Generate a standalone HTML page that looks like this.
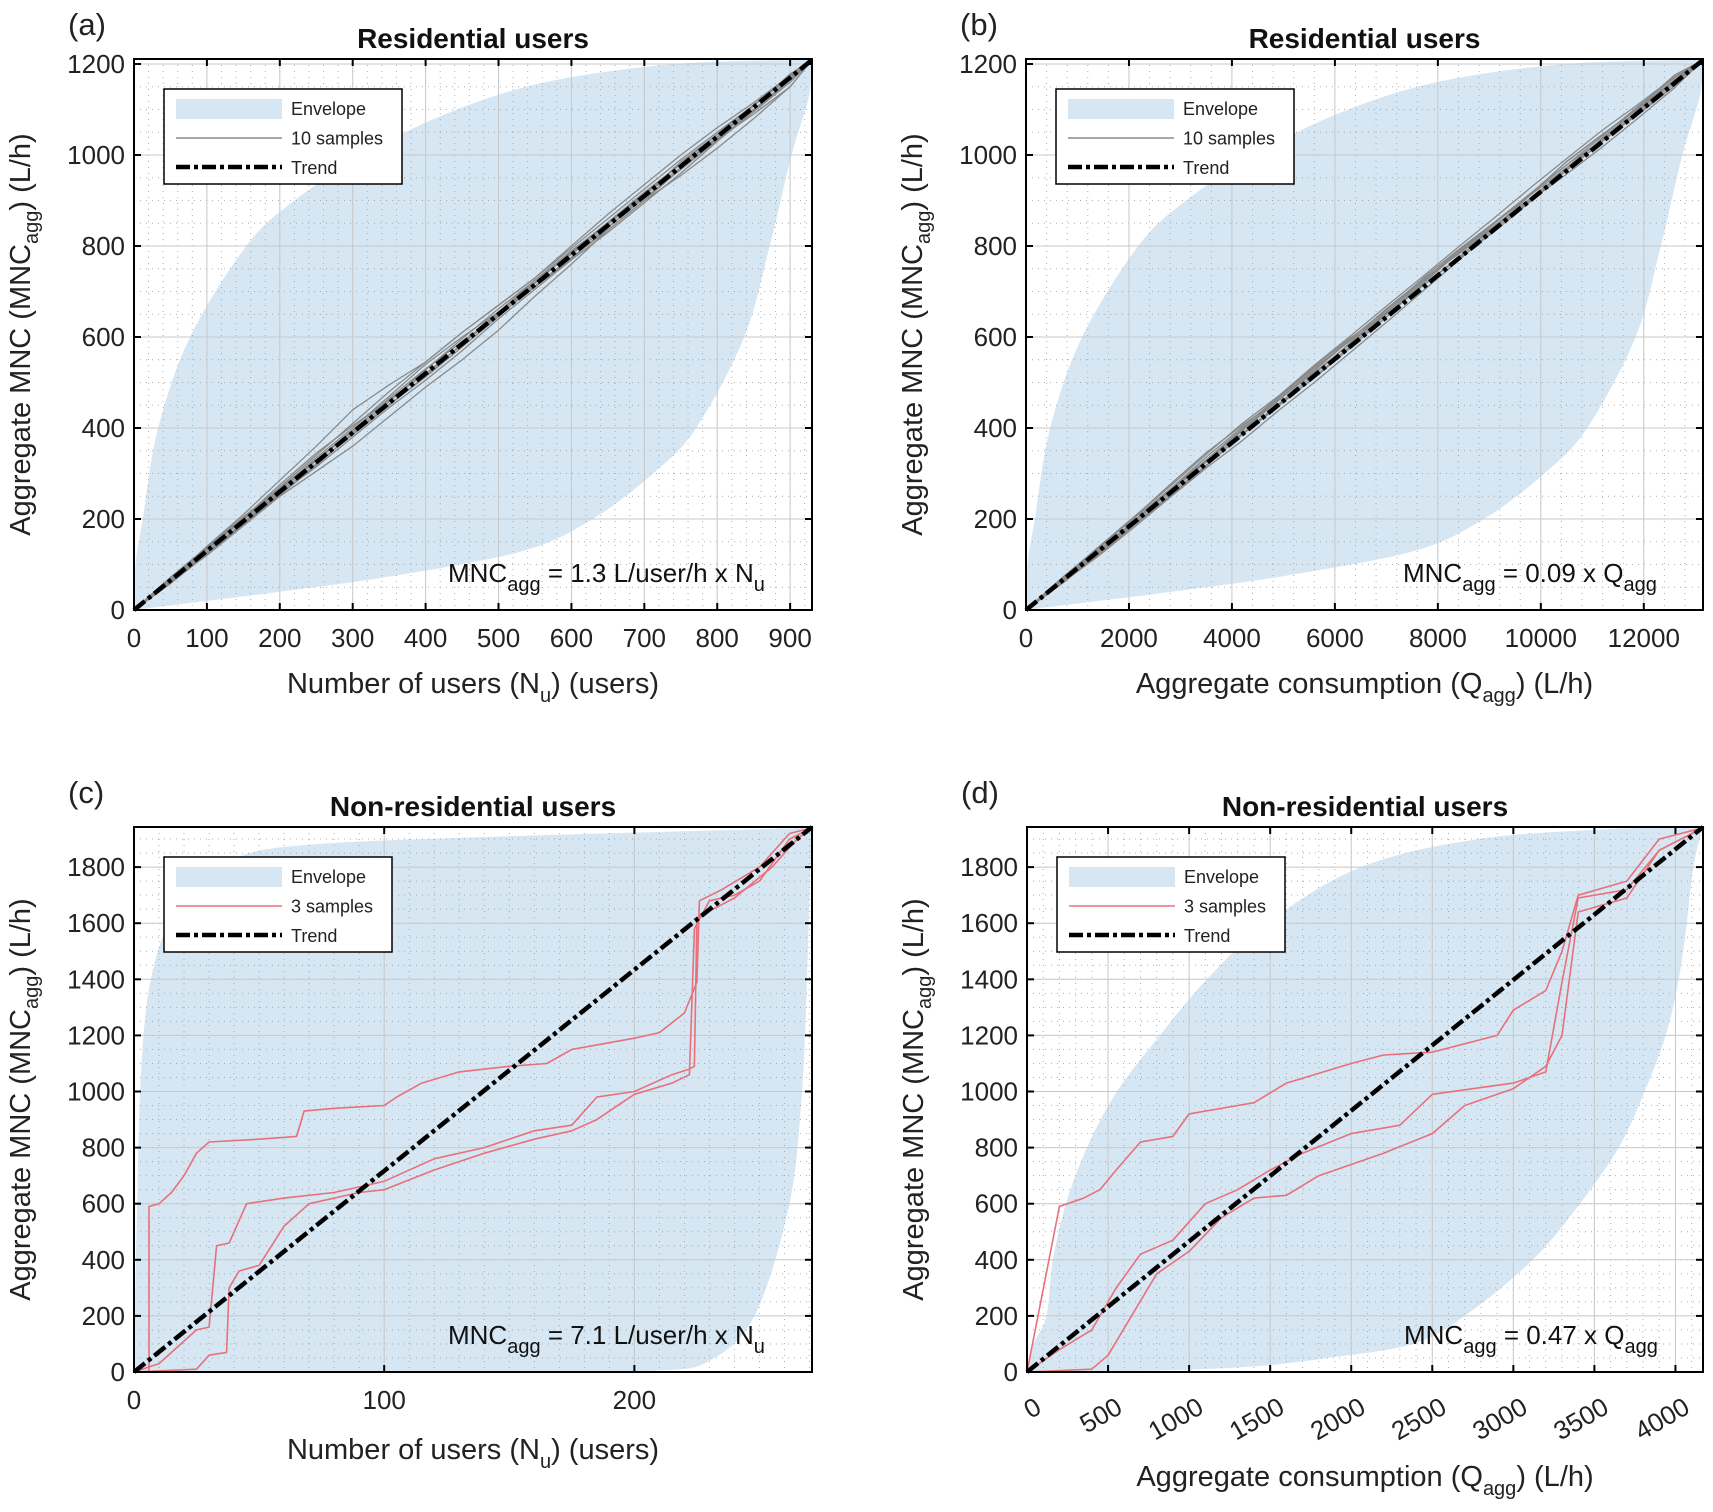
<!DOCTYPE html>
<html><head><meta charset="utf-8">
<style>
body{margin:0;background:#fff}
svg{display:block;font-family:"Liberation Sans",Arial,sans-serif}
</style></head>
<body>
<svg id="fig" width="1713" height="1512" viewBox="0 0 1713 1512" xmlns="http://www.w3.org/2000/svg">
<rect width="1713" height="1512" fill="#fff"/>
</svg>
<script>
// ---------- data ----------
// Panel (a)
const aEnvUpX = [0,2,12,33,77,154,220,315,427,564,742,930];
const aEnvUpY = [0,100,200,400,600,800,900,1000,1090,1160,1200,1209];
const aEnvLoX = [0,100,200,356,534,629,712,771,837,872,902,926,930];
const aEnvLoY = [0,20,40,75,130,200,300,400,600,800,1000,1130,1209];
const aSampX = [0,50,100,150,200,250,300,350,400,450,500,550,600,650,700,750,800,850,900,930];
const aS1 = [0,70,135,200,270,340,410,480,545,610,670,730,795,860,925,990,1050,1110,1170,1209];
const aS2 = [0,60,125,190,255,315,380,445,505,570,640,705,770,830,895,960,1030,1095,1160,1209];
const aS3 = [0,68,140,210,285,360,440,495,545,610,670,730,800,870,935,1000,1060,1115,1175,1209];
const aS4 = [0,62,120,185,250,305,360,425,490,550,615,690,760,835,900,955,1015,1080,1150,1209];
const aS5 = [0,66,132,198,265,335,400,470,540,600,655,712,775,835,900,970,1040,1100,1165,1209];
const aS6 = [0,63,128,192,258,322,385,450,515,585,655,725,790,850,915,980,1045,1110,1172,1209];
const aS7 = [0,72,138,205,268,330,395,465,530,590,648,710,772,840,910,985,1045,1100,1160,1209];
const aS8 = [0,58,122,188,252,318,388,452,512,578,645,718,788,852,918,980,1035,1090,1150,1209];
const aS9 = [0,67,134,202,275,345,405,462,520,583,652,720,785,848,912,972,1038,1108,1178,1209];
const aS10 = [0,61,126,193,262,328,392,458,528,596,662,725,782,842,905,968,1032,1098,1168,1209];
const aTrendX = [0,930];
const aTrendY = [0,1209];
// Panel (b)
const bEnvUpX = [0,28,170,470,1090,2180,3110,4450,6040,7970,10490,13150];
const bEnvUpY = [0,100,200,400,600,800,900,1000,1090,1160,1200,1209];
const bEnvLoX = [0,1410,2830,5030,7550,8890,10070,10900,11840,12330,12750,13090,13150];
const bEnvLoY = [0,20,40,75,130,200,300,400,600,800,1000,1130,1209];
const bSampX = [0,700,1400,2100,2800,3500,4200,4900,5600,6300,7000,7700,8400,9100,9800,10500,11200,11900,12600,13150];
const bS1 = [0,68,128,195,262,330,398,462,528,596,660,722,790,852,915,985,1045,1105,1165,1209];
const bS2 = [0,62,122,188,255,318,385,448,512,580,650,718,785,845,905,968,1030,1092,1158,1209];
const bS3 = [0,70,138,205,272,342,410,470,538,602,668,732,798,862,928,992,1055,1112,1172,1209];
const bS4 = [0,60,118,182,248,312,372,438,500,566,632,700,768,838,900,958,1018,1082,1148,1209];
const bS5 = [0,66,130,196,266,336,402,468,535,598,652,712,772,832,898,968,1038,1098,1162,1209];
const bS6 = [0,64,128,194,260,325,388,452,518,588,658,728,792,852,915,978,1042,1108,1170,1209];
const bS7 = [0,71,136,202,266,330,396,466,532,592,650,712,775,842,912,986,1046,1102,1162,1209];
const bS8 = [0,58,120,186,250,316,386,450,510,576,644,716,786,850,916,978,1034,1090,1152,1209];
const bS9 = [0,66,134,204,276,346,406,462,522,585,654,722,786,850,912,972,1036,1106,1176,1209];
const bS10 = [0,62,126,192,262,328,394,460,526,594,662,726,782,842,904,966,1030,1096,1166,1209];
const bTrendX = [0,13150];
const bTrendY = [0,1209];
// Panel (c)
const cEnvUpX = [0,1,3,8,20,40,70,150,271];
const cEnvUpY = [0,500,1100,1450,1700,1830,1880,1910,1940];
const cEnvLoX = [0,150,209,230,248,262,267,269,270,271];
const cEnvLoY = [0,0,5,40,200,600,1000,1400,1700,1940];
const cS1X = [0,6,6,10,15,20,25,30,50,65,68,80,100,105,115,130,150,165,175,200,210,220,225,226,235,250,262,271];
const cS1Y = [0,0,590,600,640,700,780,820,830,840,930,940,950,980,1030,1070,1090,1100,1150,1190,1210,1280,1390,1680,1720,1800,1920,1940];
const cS2X = [0,10,25,30,33,38,40,45,60,80,100,120,140,160,175,185,200,215,222,224,225,240,255,265,271];
const cS2Y = [0,30,150,160,450,460,500,600,620,640,680,760,800,860,880,980,1000,1060,1080,1090,1620,1690,1800,1900,1940];
const cS3X = [0,25,30,37,38,42,50,60,70,90,100,120,140,160,175,185,200,215,222,224,230,240,250,262,271];
const cS3Y = [0,10,60,70,300,360,380,520,600,640,650,720,780,830,860,900,990,1030,1060,1580,1680,1700,1750,1900,1940];
const cTrendX = [0,271];
const cTrendY = [0,1943];
// Panel (d)
const dEnvUpX = [0,40,120,160,240,370,555,820,1110,1480,2060,2780,3570,4170];
const dEnvUpY = [0,100,200,400,600,800,1000,1200,1400,1600,1800,1900,1935,1943];
const dEnvLoX = [0,800,1400,1850,2380,2700,3120,3410,3650,3810,3940,4020,4070,4110,4170];
const dEnvLoY = [0,5,20,50,100,200,400,600,800,1000,1200,1400,1600,1800,1943];
const dS1X = [0,200,350,450,550,700,900,1000,1300,1400,1600,2000,2200,2500,2900,3000,3200,3300,3400,3700,3900,4170];
const dS1Y = [0,590,620,650,720,820,840,920,950,960,1030,1100,1130,1140,1200,1290,1360,1500,1700,1750,1900,1940];
const dS2X = [0,200,400,550,700,900,1100,1300,1500,1700,2000,2300,2500,3000,3200,3300,3400,3700,3900,4170];
const dS2Y = [0,80,150,300,420,470,600,650,720,780,850,880,990,1030,1070,1390,1690,1720,1860,1940];
const dS3X = [0,400,500,800,1000,1200,1400,1600,1800,2200,2500,2700,3000,3200,3300,3400,3700,3900,4170];
const dS3Y = [0,10,60,350,430,550,620,630,700,780,850,950,1010,1090,1200,1640,1690,1860,1940];
const dTrendX = [0,4170];
const dTrendY = [0,1943];
// tick labels
const aXTicks = [0,100,200,300,400,500,600,700,800,900];
const bXTicks = [0,2000,4000,6000,8000,10000,12000];
const abYTicks = [0,200,400,600,800,1000,1200];
const cXTicks = [0,100,200];
const dXTicks = [0,500,1000,1500,2000,2500,3000,3500,4000];
const cdYTicks = [0,200,400,600,800,1000,1200,1400,1600,1800];

// ---------- drawing ----------
const NS = "http://www.w3.org/2000/svg";
const svg = document.getElementById('fig');
function mk(tag, attrs, parent){
  const e = document.createElementNS(NS, tag);
  for (const k in attrs) e.setAttribute(k, attrs[k]);
  (parent||svg).appendChild(e);
  return e;
}
function smooth(pts, start){
  let d = (start ? 'M' : 'L') + pts[0][0].toFixed(1) + ',' + pts[0][1].toFixed(1);
  for (let i = 0; i < pts.length-1; i++){
    const p0 = pts[Math.max(0,i-1)], p1 = pts[i], p2 = pts[i+1], p3 = pts[Math.min(pts.length-1,i+2)];
    const c1 = [p1[0] + (p2[0]-p0[0])/6, p1[1] + (p2[1]-p0[1])/6];
    const c2 = [p2[0] - (p3[0]-p1[0])/6, p2[1] - (p3[1]-p1[1])/6];
    d += 'C' + c1[0].toFixed(1) + ',' + c1[1].toFixed(1) + ' ' + c2[0].toFixed(1) + ',' + c2[1].toFixed(1) + ' ' + p2[0].toFixed(1) + ',' + p2[1].toFixed(1);
  }
  return d;
}
function panel(P){
  const g = mk('g', {});
  
  
  const sx = v => P.L + v / P.xmax * (P.R - P.L);
  const sy = v => P.B - v / P.ymax * (P.B - P.T);
  const clamp = (v, a, b) => Math.max(a, Math.min(b, v));
  const bg = mk('rect', {x:P.L, y:P.T, width:P.R-P.L, height:P.B-P.T, fill:'#fff'}, g);
  
  
  const up = P.envUpX.map((x,i)=>[sx(x), sy(P.envUpY[i])]);
  const lo = P.envLoX.map((x,i)=>[sx(x), sy(P.envLoY[i])]).reverse();
  const cp = mk('clipPath', {id:'clip-'+P.id}, g);
  mk('rect', {x:P.L, y:P.T, width:P.R-P.L, height:P.B-P.T}, cp);
  const env = mk('path', {d:smooth(up,true) + smooth(lo,false) + 'Z', fill:'#d6e7f3', stroke:'none', 'clip-path':'url(#clip-'+P.id+')'}, g);
  
  
  const grid = mk('g', {stroke:'#9a9a9a', 'stroke-width':1, 'stroke-dasharray':'1,5', opacity:0.8}, g);
  
  
  for (let v = P.xminor; v < P.xmax; v += P.xminor) mk('line', {x1:sx(v), x2:sx(v), y1:P.T, y2:P.B}, grid);
  for (let v = P.yminor; v < P.ymax; v += P.yminor) mk('line', {x1:P.L, x2:P.R, y1:sy(v), y2:sy(v)}, grid);
  const mg = mk('g', {stroke:'#c8c8c8', 'stroke-width':1}, g);
  
  
  P.xt.forEach(v=>{ if (v>0) mk('line', {x1:sx(v), x2:sx(v), y1:P.T, y2:P.B}, mg); });
  P.yt.forEach(v=>{ if (v>0) mk('line', {x1:P.L, x2:P.R, y1:sy(v), y2:sy(v)}, mg); });
  P.samples.forEach((s, k)=>{
    const pts = s.x.map((x,i)=> sx(x).toFixed(1) + ',' + clamp(sy(s.y[i]),P.T,P.B).toFixed(1)).join(' ');
    const pl = mk('polyline', {points:pts, fill:'none', stroke:P.sampColor, 'stroke-width':P.sampW, 'stroke-linejoin':'round'}, g);
    
    
  });
  const tr = mk('line', {x1:sx(P.trendX[0]), y1:sy(P.trendY[0]), x2:sx(P.trendX[1]), y2:clamp(sy(P.trendY[1]),P.T,P.B), stroke:'#000', 'stroke-width':4.5, 'stroke-dasharray':'14,4,4,4'}, g);
  
  
  const box = mk('rect', {x:P.L, y:P.T, width:P.R-P.L, height:P.B-P.T, fill:'none', stroke:'#000', 'stroke-width':2}, g);
  
  
  P.xt.forEach(v=>{
    mk('line', {x1:sx(v), x2:sx(v), y1:P.B, y2:P.B-7, stroke:'#000', 'stroke-width':2}, g);
    mk('line', {x1:sx(v), x2:sx(v), y1:P.T, y2:P.T+7, stroke:'#000', 'stroke-width':2}, g);
    let t;
    if (P.rot) {
      const x = sx(v), y = P.B + 40;
      t = mk('text', {x:x+16, y:y, 'font-size':26, 'text-anchor':'end', fill:'#222', transform:'rotate(-30 '+(x+16)+' '+y+')'}, g);
    } else {
      t = mk('text', {x:sx(v), y:P.B+37, 'font-size':26, 'text-anchor':'middle', fill:'#222'}, g);
    }
    t.textContent = v;
    
    
  });
  P.yt.forEach(v=>{
    mk('line', {x1:P.L, x2:P.L+7, y1:sy(v), y2:sy(v), stroke:'#000', 'stroke-width':2}, g);
    mk('line', {x1:P.R, x2:P.R-7, y1:sy(v), y2:sy(v), stroke:'#000', 'stroke-width':2}, g);
    const t = mk('text', {x:P.L-9, y:sy(v)+9, 'font-size':26, 'text-anchor':'end', fill:'#222'}, g);
    t.textContent = v;
    
    
  });
  const ti = mk('text', {x:(P.L+P.R)/2, y:P.T-11, 'font-size':28, 'font-weight':'bold', 'text-anchor':'middle', fill:'#111'}, g);
  ti.textContent = P.title;
  
  
  const pl = mk('text', {x:P.L-66, y:P.T-24, 'font-size':31, fill:'#222'}, g);
  pl.textContent = '(' + P.id + ')';
  
  
  const xl = mk('text', {x:(P.L+P.R)/2, y:P.xlabY, 'font-size':29, 'text-anchor':'middle', fill:'#222'}, g);
  xl.innerHTML = P.xlab;
  
  
  const cy = (P.T+P.B)/2, cx = P.L-104;
  const yl = mk('text', {x:cx, y:cy, 'font-size':29, 'text-anchor':'middle', fill:'#222', transform:'rotate(-90 '+cx+' '+cy+')'}, g);
  yl.innerHTML = 'Aggregate MNC (MNC<tspan font-size="20" dy="8">agg</tspan><tspan dy="-8">) (L/h)</tspan>';
  
  
  const an = mk('text', {x:P.L+314 + P.annDx, y:P.B-28, 'font-size':26, fill:'#111'}, g);
  an.innerHTML = P.ann;
  
  
  const lg = mk('g', {}, g);
  
  
  const lx = P.L+30, ly = P.T+30;
  mk('rect', {x:lx, y:ly, width:P.legW, height:95, fill:'#fff', stroke:'#000', 'stroke-width':1.5}, lg);
  const e1 = mk('rect', {x:lx+12, y:ly+10, width:106, height:20, fill:'#d6e7f3'}, lg);
  
  
  mk('line', {x1:lx+12, x2:lx+118, y1:ly+49, y2:ly+49, stroke:P.sampColor, 'stroke-width':1.5}, lg);
  mk('line', {x1:lx+12, x2:lx+118, y1:ly+78, y2:ly+78, stroke:'#000', 'stroke-width':4.5, 'stroke-dasharray':'14,4,4,4'}, lg);
  const names = ['Envelope', P.sampName, 'Trend'];
  names.forEach((n,i)=>{
    const t = mk('text', {x:lx+127, y:ly+26+i*29.5, 'font-size':18, fill:'#222'}, lg);
    t.textContent = n;
    
    
  });
}
const grayS = (xs, arr)=>arr.map(y=>({x:xs, y:y}));
const sub = s => '<tspan font-size="20" dy="9">'+s+'</tspan><tspan dy="-9">';
panel({id:'a', L:134, R:812, T:59, B:610, xmax:930, ymax:1211, xminor:20, yminor:50,
  xt:aXTicks, yt:abYTicks, envUpX:aEnvUpX, envUpY:aEnvUpY, envLoX:aEnvLoX, envLoY:aEnvLoY,
  samples:grayS(aSampX,[aS1,aS2,aS3,aS4,aS5,aS6,aS7,aS8,aS9,aS10]), sampColor:'#8a8a8a', sampW:1.3,
  trendX:aTrendX, trendY:aTrendY, title:'Residential users', xlabY:693,
  xlab:'Number of users (N'+sub('u')+') (users)</tspan>', ann:'MNC'+sub('agg')+' = 1.3 L/user/h x N</tspan>'+sub('u')+'</tspan>', annDx:0,
  legW:238, sampName:'10 samples'});
panel({id:'b', L:1026, R:1703, T:59, B:610, xmax:13150, ymax:1211, xminor:400, yminor:50,
  xt:bXTicks, yt:abYTicks, envUpX:bEnvUpX, envUpY:bEnvUpY, envLoX:bEnvLoX, envLoY:bEnvLoY,
  samples:grayS(bSampX,[bS1,bS2,bS3,bS4,bS5,bS6,bS7,bS8,bS9,bS10]), sampColor:'#8a8a8a', sampW:1.3,
  trendX:bTrendX, trendY:bTrendY, title:'Residential users', xlabY:693,
  xlab:'Aggregate consumption (Q'+sub('agg')+') (L/h)</tspan>', ann:'MNC'+sub('agg')+' = 0.09 x Q</tspan>'+sub('agg')+'</tspan>', annDx:63,
  legW:238, sampName:'10 samples'});
panel({id:'c', L:134, R:812, T:827, B:1372, xmax:271, ymax:1943, xminor:10, yminor:50,
  xt:cXTicks, yt:cdYTicks, envUpX:cEnvUpX, envUpY:cEnvUpY, envLoX:cEnvLoX, envLoY:cEnvLoY,
  samples:[{x:cS1X,y:cS1Y},{x:cS2X,y:cS2Y},{x:cS3X,y:cS3Y}], sampColor:'#e8707a', sampW:1.6,
  trendX:cTrendX, trendY:cTrendY, title:'Non-residential users', xlabY:1459,
  xlab:'Number of users (N'+sub('u')+') (users)</tspan>', ann:'MNC'+sub('agg')+' = 7.1 L/user/h x N</tspan>'+sub('u')+'</tspan>', annDx:0,
  legW:228, sampName:'3 samples'});
panel({id:'d', L:1027, R:1703, T:827, B:1372, xmax:4170, ymax:1943, xminor:100, yminor:50,
  xt:dXTicks, yt:cdYTicks, envUpX:dEnvUpX, envUpY:dEnvUpY, envLoX:dEnvLoX, envLoY:dEnvLoY,
  samples:[{x:dS1X,y:dS1Y},{x:dS2X,y:dS2Y},{x:dS3X,y:dS3Y}], sampColor:'#e8707a', sampW:1.6,
  trendX:dTrendX, trendY:dTrendY, title:'Non-residential users', xlabY:1486,
  xlab:'Aggregate consumption (Q'+sub('agg')+') (L/h)</tspan>', ann:'MNC'+sub('agg')+' = 0.47 x Q</tspan>'+sub('agg')+'</tspan>', annDx:63,
  legW:228, sampName:'3 samples', rot:true});
</script>
</body></html>
